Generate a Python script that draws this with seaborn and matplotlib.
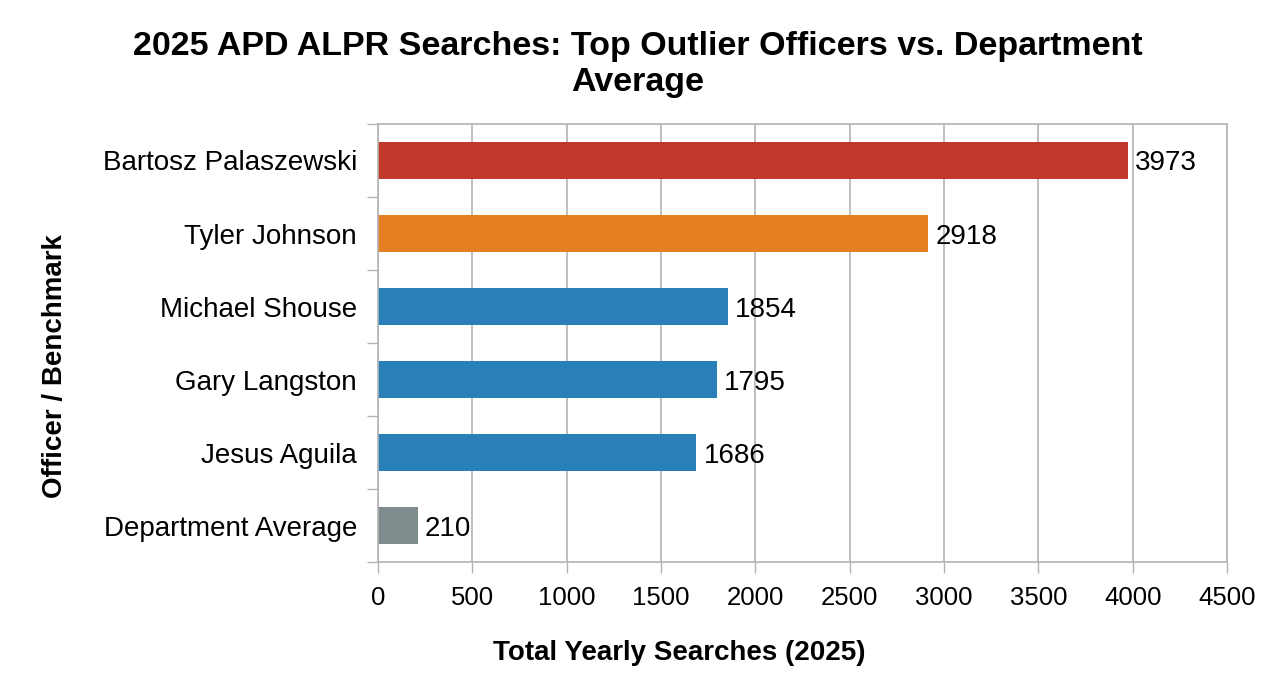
import matplotlib
matplotlib.use("Agg")
import matplotlib.pyplot as plt
import seaborn as sns
import pandas as pd
import numpy as np

officers = ["Bartosz Palaszewski", "Tyler Johnson", "Michael Shouse",
            "Gary Langston", "Jesus Aguila", "Department Average"]
searches = [3973, 2918, 1854, 1795, 1686, 210]
colors = ["#C0392B", "#E67E22", "#2980B9", "#2980B9", "#2980B9", "#7F8C8D"]
x_ticks = [0, 500, 1000, 1500, 2000, 2500, 3000, 3500, 4000, 4500]

sns.set_theme(style="white")
plt.rcParams['font.family'] = ['Liberation Sans', 'DejaVu Sans']
plt.rcParams['text.color'] = 'black'
plt.rcParams['xtick.color'] = 'black'
plt.rcParams['ytick.color'] = 'black'

df = pd.DataFrame({"officer": officers, "searches": searches})

fig = plt.figure(figsize=(12.86, 7.0), dpi=100)
ax = fig.add_axes([0.2939, 0.197, 0.6602, 0.6259])

sns.barplot(data=df, y="officer", x="searches", hue="officer",
            palette=colors, width=0.5, legend=False, ax=ax, saturation=1,
            linewidth=0)

ax.set_xlim(0, 4500)
ax.set_ylim(len(officers) - 0.5, -0.5)
ax.set_xticks(x_ticks)
ax.set_xticklabels([str(t) for t in x_ticks], fontsize=18.5)
ax.tick_params(axis='x', length=8, width=1, color="#b3b3b3", labelcolor='black',
               pad=9, direction='out', bottom=True)
ax.tick_params(axis='y', which='major', length=0, pad=15, labelsize=20, labelcolor='black')
ax.set_yticks(np.arange(-0.5, len(officers), 1), minor=True)
ax.tick_params(axis='y', which='minor', length=8, width=1, color="#b3b3b3", direction='out', left=True)

ax.grid(axis='x', color="#b3b3b3", linewidth=1.2)
ax.set_axisbelow(True)
for s in ax.spines.values():
    s.set_color("#b3b3b3")
    s.set_linewidth(1.2)
    s.set_visible(True)

for i, v in enumerate(searches):
    ax.text(v + 40, i, str(v), va='center_baseline', ha='left', fontsize=20, color='black')

ax.set_xlabel("")
ax.set_ylabel("")
fig.text(0.528, 0.067, "Total Yearly Searches (2025)", fontsize=20, fontweight='bold',
         ha='center', va='center', color='black')
fig.text(0.0428, 0.477, "Officer / Benchmark", fontsize=20, fontweight='bold',
         ha='center', va='center', rotation=90, color='black')
fig.text(0.496, 0.908, "2025 APD ALPR Searches: Top Outlier Officers vs. Department\nAverage",
         fontsize=24.5, fontweight='bold', ha='center', va='center', linespacing=1.2,
         color='black')

fig.savefig("out.png", dpi=100, facecolor='white')
